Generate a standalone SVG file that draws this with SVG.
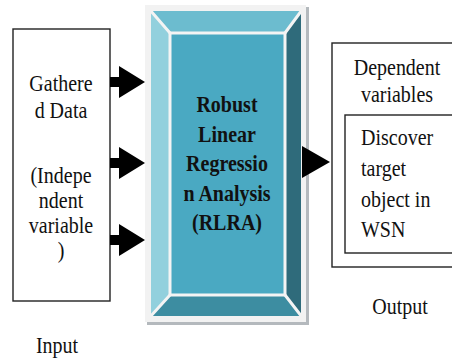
<svg xmlns="http://www.w3.org/2000/svg" width="452" height="358" viewBox="0 0 452 358">
<style>
.t{font-family:'Liberation Serif','DejaVu Serif',serif;font-size:20px;fill:#111}
.tb{font-family:'Liberation Serif','DejaVu Serif',serif;font-size:20px;font-weight:bold;fill:#111}
.c{text-anchor:middle}
.box{fill:#fff;stroke:#222;stroke-width:1.4}
.arr{fill:#000}
.wl{fill:none;stroke:#f4f4f4;stroke-width:3}
</style>
<rect width="452" height="358" fill="#fff"/>
<g id="input">
<rect class="box" x="13" y="29" width="97" height="272"/>
<text class="t c" transform="translate(61,91) scale(1,1.15)">Gathere</text>
<text class="t c" transform="translate(61,118) scale(1,1.15)">d Data</text>
<text class="t c" transform="translate(61,183) scale(1,1.15)">(Indepe</text>
<text class="t c" transform="translate(61,208) scale(1,1.15)">ndent</text>
<text class="t c" transform="translate(61,233) scale(1,1.15)">variable</text>
<text class="t c" transform="translate(61,258) scale(1,1.15)">)</text>
<text class="t c" transform="translate(57,353) scale(1,1.15)">Input</text>
</g>
<g id="rlra">
<rect x="147" y="7" width="162" height="318" fill="#b4b9bd"/>
<rect x="145" y="5" width="161" height="317" fill="#f2f2f2"/>
<polygon points="150,10 302,10 285,33 170,33" fill="#6cbccf"/>
<polygon points="150,10 170,33 170,295 150,317" fill="#92d0dd"/>
<polygon points="302,10 302,317 285,295 285,33" fill="#2f6b7b"/>
<polygon points="150,317 302,317 285,295 170,295" fill="#3d8da1"/>
<rect x="170" y="33" width="115" height="262" fill="#4aa9c2"/>
<path class="wl" d="M150,10 L170,33 M302,10 L285,33 M150,317 L170,295 M302,317 L285,295"/>
<rect class="wl" x="170" y="33" width="115" height="262"/>
<rect fill="none" stroke="#f2f2f2" stroke-width="2" x="150" y="10" width="152" height="307"/>
<text class="tb c" transform="translate(227,112) scale(1,1.15)">Robust</text>
<text class="tb c" transform="translate(227,142) scale(1,1.15)">Linear</text>
<text class="tb c" transform="translate(227,171) scale(1,1.15)">Regressio</text>
<text class="tb c" transform="translate(227,201) scale(1,1.15)">n Analysis</text>
<text class="tb c" transform="translate(227,230) scale(1,1.15)">(RLRA)</text>
</g>
<g id="output">
<rect class="box" x="332" y="43" width="130" height="224"/>
<rect class="box" x="345" y="115" width="120" height="138"/>
<text class="t c" transform="translate(397,75) scale(1,1.15)">Dependent</text>
<text class="t c" transform="translate(397,102) scale(1,1.15)">variables</text>
<text class="t" transform="translate(361,145) scale(1,1.15)">Discover</text>
<text class="t" transform="translate(361,176) scale(1,1.15)">target</text>
<text class="t" transform="translate(361,207) scale(1,1.15)">object in</text>
<text class="t" transform="translate(361,237) scale(1,1.15)">WSN</text>
<text class="t c" transform="translate(400,314) scale(1,1.15)">Output</text>
</g>
<g id="connectors">
<polygon class="arr" points="110,77 119,77 119,66 145,82 119,98 119,87 110,87"/>
<polygon class="arr" points="110,158 119,158 119,147 145,163 119,179 119,168 110,168"/>
<polygon class="arr" points="110,235 119,235 119,224 145,240 119,256 119,245 110,245"/>
<polygon class="arr" points="302,146 330,162 302,178"/>
</g>
</svg>
